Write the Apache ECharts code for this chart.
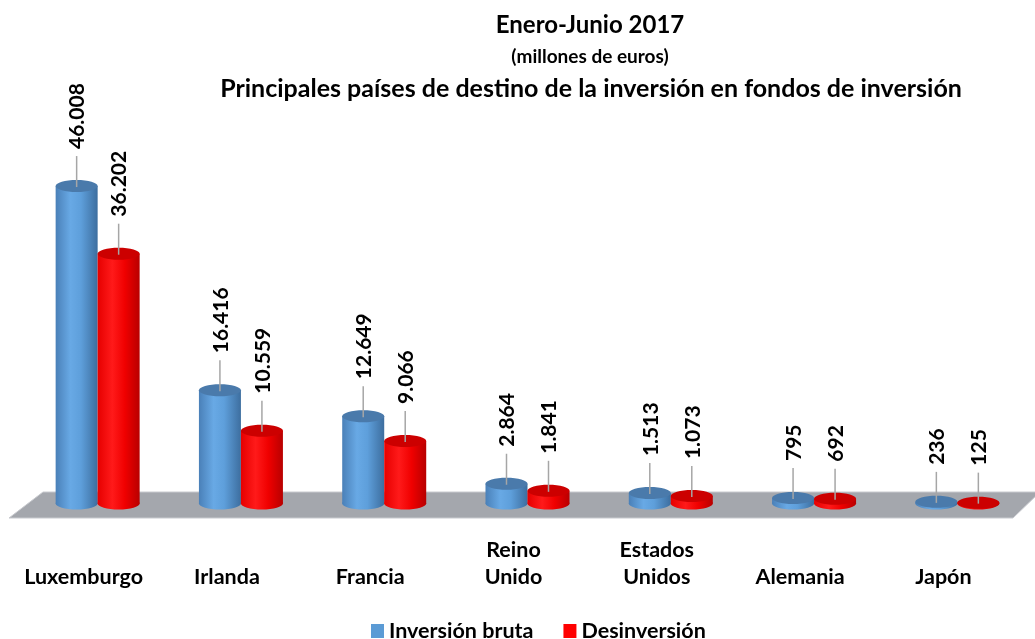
<!DOCTYPE html>
<html>
<head>
<meta charset="utf-8">
<script src="https://cdn.jsdelivr.net/npm/echarts@6/dist/echarts.min.js"></script>
<style>
    html, body {margin: 0; padding: 0; background: #fff;}
    #chart {width: 1035px; height: 639px;}
</style>
</head>
<body>
<div id="chart"></div>
<script>
var categories = ['Luxemburgo', 'Irlanda', 'Francia', 'Reino\nUnido', 'Estados\nUnidos', 'Alemania', 'Japón'];
var inversionBruta = [46008, 16416, 12649, 2864, 1513, 795, 236];
var desinversion = [36202, 10559, 9066, 1841, 1073, 692, 125];

var FONT = 'Lato, "Open Sans", sans-serif';

var chart = echarts.init(document.getElementById('chart'));

function fmt(v) {
    return String(v).replace(/\B(?=(\d{3})+(?!\d))/g, '.');
}

// cilindro: cuerpo + base + tapa + línea guía + etiqueta vertical
function cylinder(side, body, topColor) {
    return function (params, api) {
        var top = api.coord([api.value(0), api.value(1)]);
        var base = api.coord([api.value(0), 0]);
        var w = 42, ry = 6;
        var cx = base[0] + side * w / 2;
        var fill = new echarts.graphic.LinearGradient(0, 0, 1, 0, body);
        return {
            type: 'group',
            children: [
                {type: 'rect', shape: {x: cx - w / 2, y: top[1], width: w, height: base[1] - top[1]}, style: {fill: fill}},
                {type: 'ellipse', shape: {cx: cx, cy: base[1], rx: w / 2, ry: ry}, style: {fill: fill}},
                {type: 'ellipse', shape: {cx: cx, cy: top[1], rx: w / 2, ry: ry}, style: {fill: topColor}},
                {type: 'line', shape: {x1: cx, y1: top[1] + 1, x2: cx, y2: top[1] - 30}, style: {stroke: '#a6a6a6', lineWidth: 1.5}},
                {
                    type: 'text', x: cx + 1, y: top[1] - 37, rotation: Math.PI / 2,
                    style: {text: fmt(api.value(1)), fill: '#000', fontSize: 21, fontWeight: 'bold', fontFamily: FONT, align: 'left', verticalAlign: 'middle'}
                }
            ]
        };
    };
}

var option = {
    animation: false,
    backgroundColor: '#fff',
    title: [
        {text: 'Enero-Junio 2017', left: 585, top: 8, textAlign: 'center', textStyle: {fontSize: 24, fontWeight: 'bold', fontFamily: FONT, color: '#000'}},
        {text: '(millones de euros)', left: 585, top: 42, textAlign: 'center', textStyle: {fontSize: 19, fontWeight: 'bold', fontFamily: FONT, color: '#000'}},
        {text: 'Principales países de destino de la inversión en fondos de inversión', left: 586, top: 71, textAlign: 'center', textStyle: {fontSize: 25, fontWeight: 'bold', fontFamily: FONT, color: '#000'}}
    ],
    legend: {
        left: 366,
        top: 615,
        icon: 'rect',
        itemWidth: 13,
        itemHeight: 14,
        itemGap: 30,
        textStyle: {fontSize: 21.5, fontWeight: 'bold', fontFamily: FONT, color: '#000'},
        data: ['Inversión bruta', 'Desinversión']
    },
    graphic: [{
        type: 'polygon',
        z: -10,
        shape: {points: [[43, 492], [1040, 492], [1013, 518], [9, 518]]},
        style: {fill: '#a4a7ad', stroke: '#c8cacf', lineWidth: 1}
    }],
    grid: {left: 26, right: 6, top: 158.5, bottom: 135.5},
    xAxis: {
        type: 'category',
        data: categories,
        axisLine: {show: false},
        axisTick: {show: false},
        axisLabel: {
            interval: 0,
            margin: 87,
            verticalAlign: 'bottom',
            lineHeight: 27,
            padding: [0, 28, 0, 0],
            color: '#000',
            fontSize: 21.5,
            fontWeight: 'bold',
            fontFamily: FONT
        }
    },
    yAxis: {
        type: 'value',
        min: 0,
        max: 50000,
        show: false,
        splitLine: {show: false}
    },
    series: [
        {
            name: 'Inversión bruta',
            type: 'custom',
            z: 10,
            itemStyle: {color: '#5b9bd5'},
            renderItem: cylinder(-1, [
                {offset: 0, color: '#4a80b8'},
                {offset: 0.35, color: '#68a9e5'},
                {offset: 0.6, color: '#5e9fdb'},
                {offset: 1, color: '#3d6e9f'}
            ], '#4a7aab'),
            data: inversionBruta.map(function (v, i) { return [i, v]; })
        },
        {
            name: 'Desinversión',
            type: 'custom',
            z: 11,
            itemStyle: {color: '#ff0000'},
            renderItem: cylinder(1, [
                {offset: 0, color: '#e60000'},
                {offset: 0.35, color: '#ff1a1a'},
                {offset: 0.65, color: '#f00000'},
                {offset: 1, color: '#b80000'}
            ], '#cc0000'),
            data: desinversion.map(function (v, i) { return [i, v]; })
        }
    ]
};

chart.setOption(option);
</script>
</body>
</html>
